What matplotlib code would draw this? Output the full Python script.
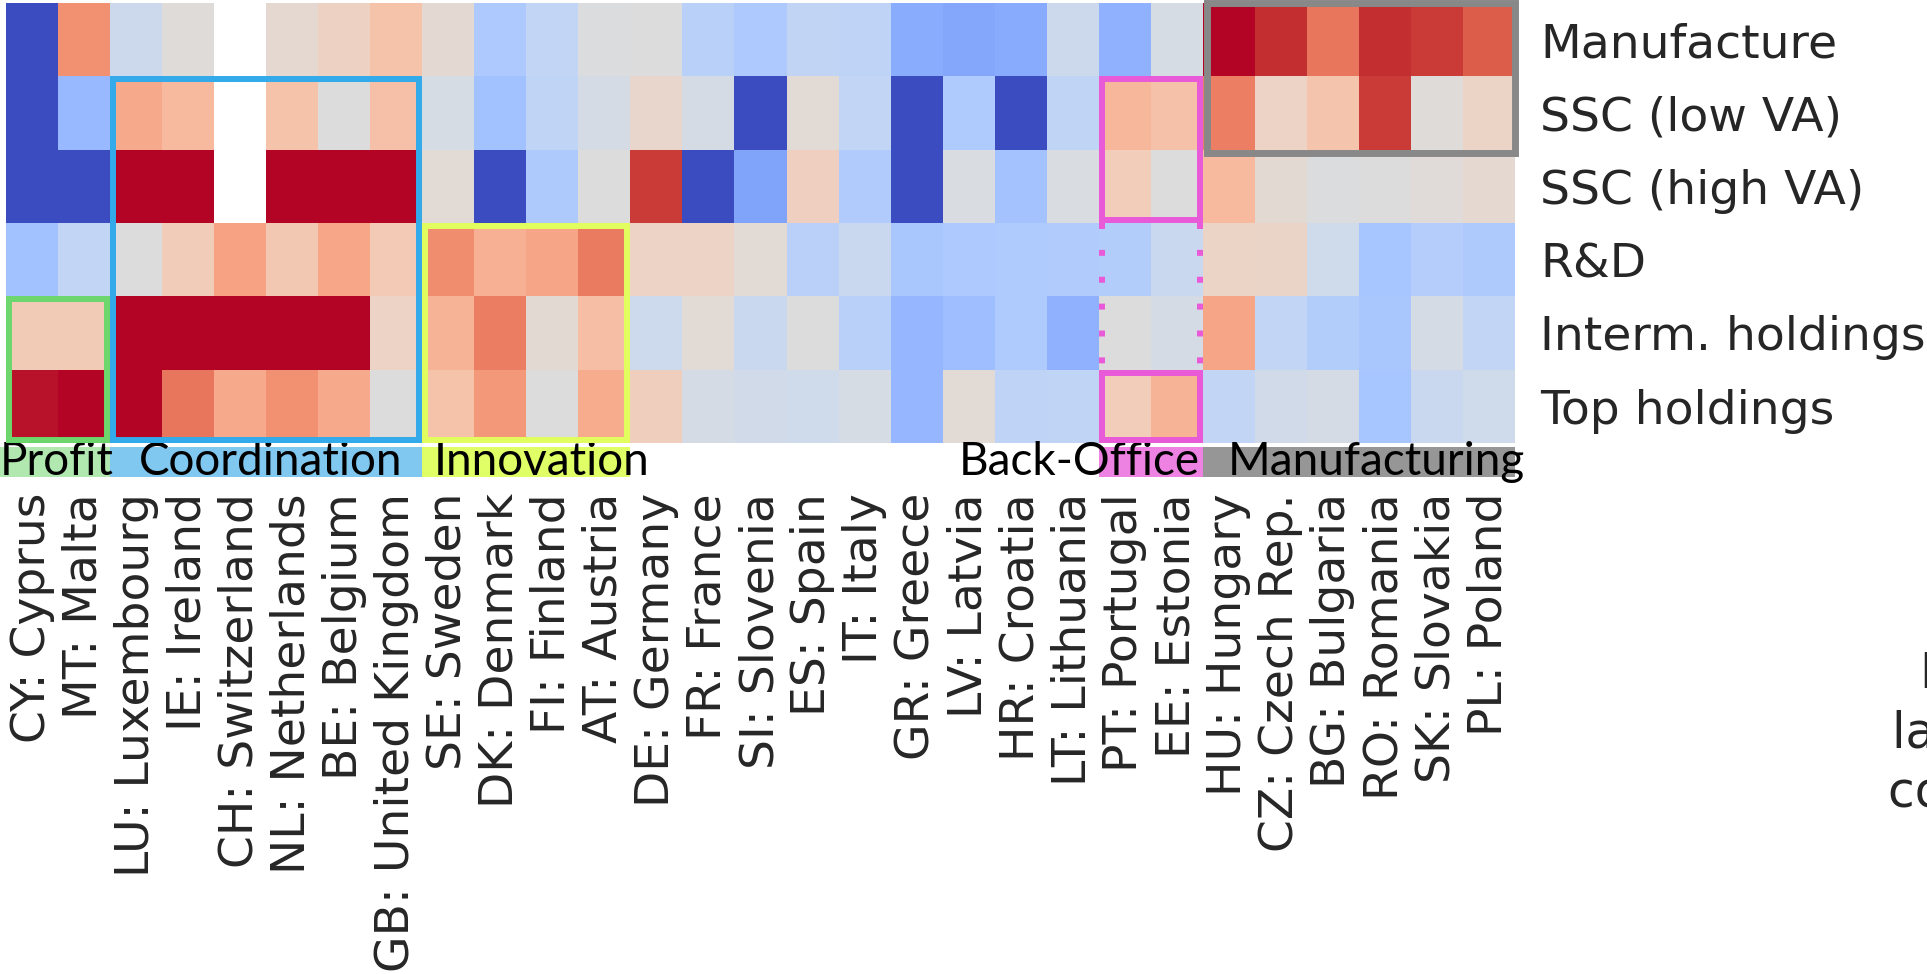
import numpy as np
import matplotlib.pyplot as plt
from matplotlib import transforms
from matplotlib.patches import Rectangle

countries = ['CY: Cyprus', 'MT: Malta', 'LU: Luxembourg', 'IE: Ireland',
             'CH: Switzerland', 'NL: Netherlands', 'BE: Belgium',
             'GB: United Kingdom', 'SE: Sweden', 'DK: Denmark', 'FI: Finland',
             'AT: Austria', 'DE: Germany', 'FR: France', 'SI: Slovenia',
             'ES: Spain', 'IT: Italy', 'GR: Greece', 'LV: Latvia',
             'HR: Croatia', 'LT: Lithuania', 'PT: Portugal', 'EE: Estonia',
             'HU: Hungary', 'CZ: Czech Rep.', 'BG: Bulgaria', 'RO: Romania',
             'SK: Slovakia', 'PL: Poland']
functions = ['Manufacture', 'SSC (low VA)', 'SSC (high VA)', 'R&D',
             'Interm. holdings', 'Top holdings']

nan = np.nan
manufacture = [-1, 0.54, -0.12, 0.02, nan, 0.07, 0.14, 0.26, 0.06, -0.32,
               -0.18, -0.01, 0.0, -0.25, -0.32, -0.19, -0.21, -0.52, -0.55,
               -0.53, -0.12, -0.49, -0.05, 1.0, 0.92, 0.66, 0.92, 0.88, 0.76]
ssc_low = [-1, -0.43, 0.42, 0.32, nan, 0.26, 0.0, 0.28, -0.05, -0.38,
           -0.2, -0.06, 0.09, -0.06, -1, 0.04, -0.18, -1, -0.3,
           -1, -0.2, 0.34, 0.27, 0.62, 0.13, 0.25, 0.88, 0.02, 0.12]
ssc_high = [-1, -1, 1, 1, nan, 1, 1, 1, 0.04, -1,
            -0.31, 0.0, 0.88, -1, -0.57, 0.16, -0.29, -1, -0.03,
            -0.37, -0.03, 0.18, 0.0, 0.32, 0.05, -0.01, 0.0, 0.03, 0.07]
rnd = [-0.38, -0.18, 0.0, 0.19, 0.46, 0.22, 0.43, 0.21, 0.56, 0.38,
       0.44, 0.64, 0.13, 0.13, 0.04, -0.24, -0.14, -0.33, -0.32,
       -0.3, -0.29, -0.28, -0.14, 0.12, 0.11, -0.1, -0.35, -0.27, -0.31]
interm_holdings = [0.2, 0.2, 1, 1, 1, 1, 1, 0.13, 0.36, 0.63,
                   0.05, 0.29, -0.11, 0.04, -0.14, 0.0, -0.25, -0.45, -0.4,
                   -0.3, -0.49, 0.0, -0.06, 0.44, -0.18, -0.28, -0.34, -0.06,
                   -0.18]
top_holdings = [0.97, 1, 1, 0.66, 0.42, 0.54, 0.42, 0.0, 0.26, 0.5,
                0.0, 0.4, 0.17, -0.06, -0.09, -0.1, -0.05, -0.45, 0.04,
                -0.21, -0.2, 0.18, 0.36, -0.18, -0.09, -0.06, -0.35, -0.14,
                -0.1]

# group name, first column, last column + 1
group_names = ['Profit', 'Coordination', 'Innovation', 'Back-Office',
               'Manufacturing']
group_starts = [0, 2, 8, 21, 23]
group_ends = [2, 8, 12, 23, 29]

W, H = 1927, 974
TXT = '#262626'


def px(x, y):
    # figure pixel (from top-left) to figure fraction
    return x / W, 1 - y / H


def draw_boxes(ax):
    lw = 4.3
    dx, dy = 0.06, 0.04

    def box(c0, c1, r0, r1, color, inset=True, lwidth=lw):
        ix = dx if inset else 0
        iy = dy if inset else 0
        ax.add_patch(Rectangle((c0 + ix, r0 + iy), c1 - c0 - 2 * ix,
                               r1 - r0 - 2 * iy, fill=False, edgecolor=color,
                               lw=lwidth, clip_on=False, zorder=5))

    box(0, 2, 4, 6, '#6dd66d')
    box(2, 8, 1, 6, '#33aaea')
    box(8, 12, 3, 6, '#e2fe5e')
    box(21, 23, 1, 3, '#e85ad7')
    box(21, 23, 5, 6, '#e85ad7')
    for c in (21 + dx, 23 - dx):
        ax.plot([c, c], [3, 5], color='#e85ad7', lw=lw,
                linestyle=(0, (1, 3.5)), clip_on=False, zorder=5)
    ax.add_patch(Rectangle((23.08, 0.0), 29 - 23.08, 2.04, fill=False,
                           edgecolor='#888888', lw=5, clip_on=False,
                           zorder=5))


def draw_groups(ax):
    trans = transforms.blended_transform_factory(ax.transData, ax.transAxes)
    band_colors = ['#b0e8b0', '#80c8f0', '#e0ff66', '#ee82e2', '#969696']
    y0 = (443 - 477) / 440
    h = 30 / 440
    for start, end, col in zip(group_starts, group_ends, band_colors):
        if start == 0:
            start = -0.12
        ax.add_patch(Rectangle((start, y0), end - start, h, transform=trans,
                               facecolor=col, lw=0, clip_on=False, zorder=1))
    yt = (443 - 475) / 440
    # label anchors relative to each group
    anchors = [(-0.12, 'left'), (5.08, 'center'), (10.3, 'center'),
               (22.95, 'right'), (26.33, 'center')]
    for name, (x, ha) in zip(group_names, anchors):
        ax.text(x, yt, name, transform=trans, ha=ha, va='baseline',
                fontsize=33, family='Lato', color='black', clip_on=False,
                zorder=2)


def main():
    data = np.array([manufacture, ssc_low, ssc_high, rnd, interm_holdings,
                     top_holdings], dtype=float)
    masked = np.ma.masked_invalid(data)

    fig = plt.figure(figsize=(W / 100, H / 100), dpi=100)
    l, b = px(6, 443)
    ax = fig.add_axes([l, b, 1509 / W, 440 / H])
    ax.pcolormesh(np.arange(len(countries) + 1),
                  np.arange(len(functions) + 1), masked,
                  cmap='coolwarm', vmin=-1, vmax=1)
    ax.set_xlim(0, len(countries))
    ax.set_ylim(len(functions), 0)
    for s in ax.spines.values():
        s.set_visible(False)

    ax.set_xticks(np.arange(len(countries)) + 0.5)
    ax.set_xticklabels(countries, rotation=90)
    ax.yaxis.tick_right()
    ax.set_yticks(np.arange(len(functions)) + 0.5)
    ax.set_yticklabels(functions)
    ax.tick_params(axis='x', length=0, pad=36, labelsize=34,
                   labelcolor=TXT)
    ax.tick_params(axis='y', length=0, pad=18, labelsize=34,
                   labelcolor=TXT)

    draw_boxes(ax)
    draw_groups(ax)

    # side note, cut off by the figure edge
    for x, y, s in [(1920, 688, 'Log ratio'), (1892, 748, 'larger than'),
                    (1888, 807, 'country avg.')]:
        fig.text(*px(x, y), s, fontsize=35, color=TXT, ha='left',
                 va='baseline')

    fig.savefig('out.png', dpi=100)


if __name__ == '__main__':
    main()
